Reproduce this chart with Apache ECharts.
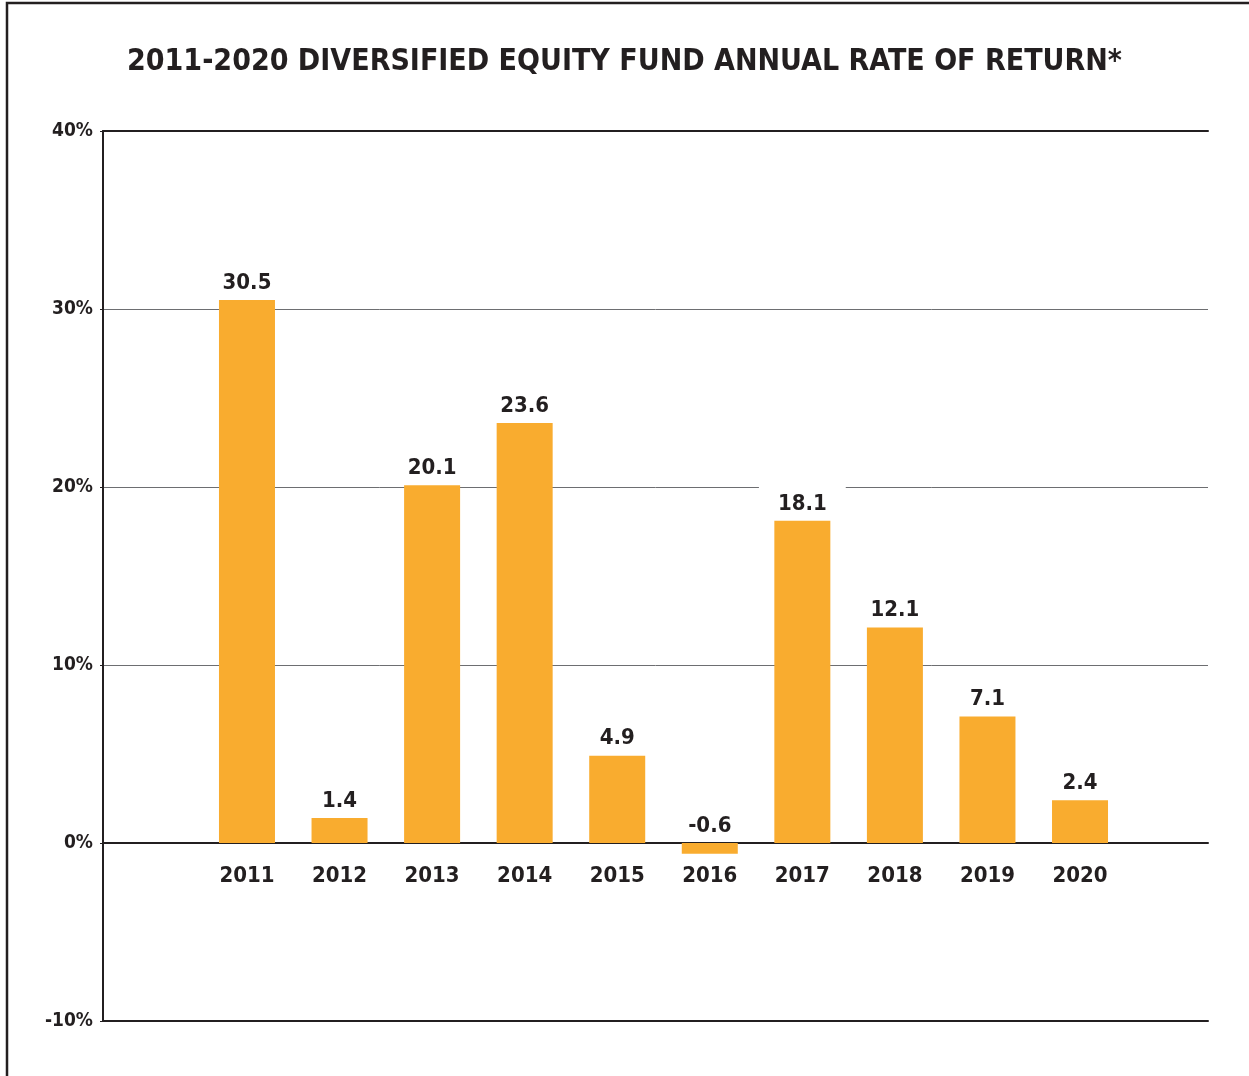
<!DOCTYPE html>
<html>
<head>
<meta charset="utf-8">
<title>Diversified Equity Fund Annual Rate of Return</title>
<script src="https://cdn.jsdelivr.net/npm/echarts@6/dist/echarts.min.js"></script>
<style>
    html, body { margin: 0; padding: 0; background: #fff; }
    #chart { width: 1249px; height: 1076px; }
</style>
</head>
<body>
<div id="chart"></div>
<script>
    // data
    const years = ['2011', '2012', '2013', '2014', '2015', '2016', '2017', '2018', '2019', '2020'];
    const returns = [30.5, 1.4, 20.1, 23.6, 4.9, -0.6, 18.1, 12.1, 7.1, 2.4];
    const yMin = -10;
    const yMax = 40;
    const yStep = 10;

    const FONT = "'Liberation Sans Narrow', 'DejaVu Sans Condensed', sans-serif";
    const INK = '#231f20';
    const ORANGE = '#f9ac2f';

    // plot box: 131..1021 px tall for -10..40, so the zero line is 178 px above the bottom
    const zeroOffset = -178;

    const chart = echarts.init(document.getElementById('chart'));

    // frame axis (top / bottom lines) sits in grid 0, zero line in grid 2, bars in grid 1
    const frameX = (pos) => ({
        gridIndex: 0,
        type: 'value',
        min: 0,
        max: 1,
        position: pos,
        axisLine: { show: true, onZero: false, lineStyle: { color: INK, width: 2 } },
        axisTick: { show: false },
        axisLabel: { show: false },
        splitLine: { show: false }
    });

    const hiddenY = (idx) => ({
        gridIndex: idx,
        type: 'value',
        min: yMin,
        max: yMax,
        interval: yStep,
        axisLine: { show: false },
        axisTick: { show: false },
        axisLabel: { show: false },
        splitLine: { show: false }
    });

    const option = {
        backgroundColor: '#fff',
        animation: false,
        title: {
            text: '2011-2020 DIVERSIFIED EQUITY FUND ANNUAL RATE OF RETURN*',
            left: 'center',
            top: 42,
            textStyle: {
                fontFamily: FONT,
                fontSize: 30,
                fontWeight: 'bold',
                color: INK
            }
        },
        graphic: [
            {
                type: 'rect',
                shape: { x: 7, y: 3, width: 1300, height: 1200 },
                style: { fill: 'none', stroke: INK, lineWidth: 2.5 },
                silent: true
            }
        ],
        grid: [
            { left: 103, right: 41, top: 131, bottom: 55 },
            { left: 200.7, right: 122.7, top: 131, bottom: 55 },
            { left: 103, right: 41, top: 131, bottom: 55 }
        ],
        xAxis: [
            frameX('top'),
            frameX('bottom'),
            {
                gridIndex: 1,
                type: 'category',
                data: years,
                position: 'bottom',
                offset: zeroOffset,
                axisLine: { show: false, onZero: false },
                axisTick: { show: false },
                axisLabel: {
                    margin: 22,
                    fontFamily: FONT,
                    fontSize: 22,
                    fontWeight: 'bold',
                    color: INK
                }
            },
            {
                gridIndex: 2,
                type: 'value',
                min: 0,
                max: 1,
                axisLine: { show: true, onZero: true, lineStyle: { color: INK, width: 2 } },
                axisTick: { show: false },
                axisLabel: { show: false },
                splitLine: { show: false }
            }
        ],
        yAxis: [
            {
                gridIndex: 0,
                type: 'value',
                min: yMin,
                max: yMax,
                interval: yStep,
                axisLine: { show: true, onZero: false, lineStyle: { color: INK, width: 2 } },
                axisTick: { show: true, length: 3, lineStyle: { color: INK } },
                axisLabel: {
                    formatter: '{value}%',
                    margin: 10,
                    fontFamily: FONT,
                    fontSize: 19,
                    fontWeight: 'bold',
                    color: INK
                },
                splitLine: { show: true, lineStyle: { color: '#6d6e71', width: 1 } }
            },
            hiddenY(1),
            hiddenY(2)
        ],
        series: [
            {
                name: 'Annual rate of return',
                type: 'bar',
                xAxisIndex: 2,
                yAxisIndex: 1,
                data: returns,
                barWidth: 56,
                itemStyle: { color: ORANGE },
                label: {
                    show: true,
                    position: 'top',
                    distance: 4,
                    formatter: (p) => p.value.toFixed(1),
                    backgroundColor: '#fff',
                    padding: [8, 19, 2, 19],
                    fontFamily: FONT,
                    fontSize: 22,
                    fontWeight: 'bold',
                    color: INK
                }
            }
        ]
    };

    chart.setOption(option);
</script>
</body>
</html>
